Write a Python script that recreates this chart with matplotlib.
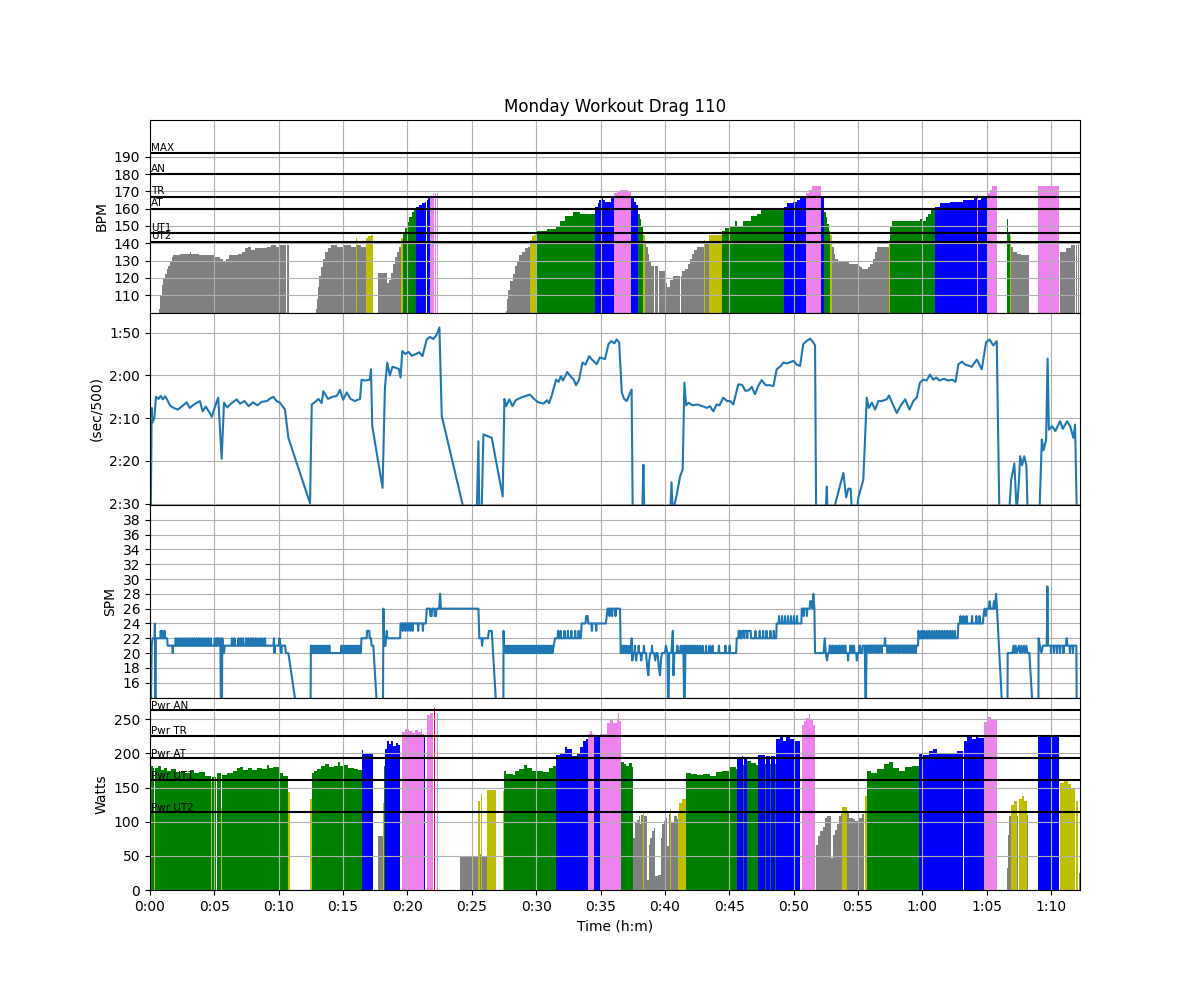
import matplotlib
matplotlib.use("Agg")
import matplotlib.pyplot as plt
from matplotlib.ticker import FuncFormatter, MultipleLocator
import numpy as np

title = "Monday Workout Drag 110"
t_end = 4335

# heart-rate zones
hr_zone_names = ["UT2", "UT1", "AT", "TR", "AN", "MAX"]
hr_zone_vals = [141, 146, 160, 167, 180, 192]
# power zones
pw_zone_names = ["Pwr UT2", "Pwr UT1", "Pwr AT", "Pwr TR", "Pwr AN"]
pw_zone_vals = [114, 161, 193, 226, 263]
zone_colors = ["gray", "y", "green", "blue", "violet", "red"]

# heart rate (time s, bpm); 0 = no data
hr_t = [0, 43, 48, 54, 62, 70, 78, 86, 94, 101, 108, 140, 175, 185, 192, 230, 270, 300, 324, 328,
        338, 348, 356, 366, 395, 410, 430, 445, 455, 470, 490, 520, 545, 565, 585, 605, 635, 639, 649,
        772, 778, 784, 790, 797, 805, 815, 828, 845, 870, 900, 935, 962, 966, 985, 1007, 1018, 1028,
        1040, 1063, 1100, 1104, 1112, 1122, 1132, 1142, 1152, 1160, 1170, 1178, 1188, 1198, 1208,
        1220, 1232, 1240, 1255, 1268, 1280, 1286, 1290, 1298, 1306, 1319, 1324, 1328, 1334, 1338, 1343,
        1660, 1665, 1671, 1680, 1690, 1700, 1710, 1722, 1735, 1750, 1762, 1771, 1780, 1790, 1804,
        1849, 1893, 1911, 1935, 1973, 2004, 2076, 2086, 2094, 2102, 2110, 2120, 2150, 2163, 2175,
        2190, 2228, 2242, 2255, 2265, 2275, 2283, 2291, 2298, 2307, 2313, 2319, 2326, 2334, 2349,
        2353, 2368, 2372, 2400, 2410, 2422, 2426, 2436, 2469, 2473, 2480, 2492, 2496, 2506, 2516,
        2526, 2538, 2550, 2583, 2588, 2606, 2666, 2680, 2700, 2728, 2736, 2765, 2800, 2830, 2850,
        2955, 2968, 2999, 3015, 3030, 3058, 3070, 3085, 3128, 3142, 3150, 3157, 3164, 3170, 3179,
        3186, 3195, 3205, 3260, 3300, 3308, 3320, 3345, 3358, 3368, 3378, 3388, 3445, 3450, 3458,
        3590, 3600, 3615, 3628, 3640, 3659, 3683, 3729, 3791, 3840, 3855, 3860, 3875, 3906, 3915,
        3926, 3948, 3995, 3999, 4009, 4014, 4022, 4040, 4060, 4098, 4140, 4237, 4242, 4270, 4295,
        4312, 4316, 4321, 4325, 4330]
hr_v = [0, 102, 110, 116, 120, 122, 125, 127, 130, 132, 133, 134, 134, 135, 134, 133, 133, 132, 0, 131,
        130, 129, 131, 133, 133, 134, 135, 137, 138, 136, 137, 137, 138, 139, 138, 139, 0, 139, 0,
        102, 108, 115, 121, 126, 131, 135, 137, 139, 138, 139, 138, 143, 139, 138, 143, 144, 145,
        0, 123, 123, 117, 119, 123, 128, 132, 135, 138, 143, 146, 149, 152, 155,
        158, 159, 161, 162, 163, 164, 0, 165, 166, 167, 169, 0, 169, 0, 169, 0,
        101, 108, 113, 118, 122, 127, 130, 133, 135, 137, 138, 142, 144, 145, 147,
        148, 150, 153, 156, 158, 157, 161, 163, 165, 166, 165, 164, 166, 169, 170,
        171, 170, 166, 164, 162, 157, 154, 150, 145, 140, 138, 134, 130, 127, 0,
        127, 0, 124, 117, 115, 0, 119, 121, 0, 121, 124, 0, 125, 128, 131,
        134, 136, 138, 142, 140, 145, 147, 149, 150, 153, 150, 153, 156, 157, 159,
        161, 163, 164, 165, 166, 169, 171, 173, 166, 158, 155, 151, 147, 145, 138,
        134, 131, 129, 128, 127, 126, 125, 126, 128, 131, 135, 138, 142, 150, 153,
        154, 153, 155, 157, 159, 161, 163, 164, 165, 166, 168, 165, 166, 169, 171,
        173, 0, 154, 146, 144, 138, 135, 134, 133, 0, 173, 0, 135, 137, 139,
        0, 139, 0, 140, 0]

# pace (time s, sec/500m)
pc_t = [3, 8, 11, 20, 28, 40, 50, 60, 70, 78, 93, 110, 130, 150, 171, 185, 200, 215, 233, 245, 260,
        275, 288, 305, 318, 334, 345, 360, 380, 404, 420, 440, 460, 480, 500, 520, 545, 560, 575, 590,
        606, 629, 645, 746, 754, 770, 785, 800, 808, 830, 850, 870, 886, 900, 917, 935, 955, 979, 986,
        1000, 1025, 1030, 1036, 1084, 1095, 1106, 1118, 1130, 1145, 1160, 1168, 1176, 1190, 1205,
        1220, 1240, 1255, 1270, 1290, 1305, 1320, 1335, 1349, 1360, 1461, 1523, 1531, 1535, 1546,
        1554, 1593, 1644, 1652, 1660, 1675, 1690, 1705, 1720, 1740, 1771, 1790, 1810, 1835, 1850,
        1860, 1872, 1893, 1905, 1915, 1925, 1945, 1960, 1975, 1986, 2000, 2016, 2030, 2047, 2060,
        2082, 2097, 2121, 2137, 2150, 2165, 2175, 2187, 2199, 2210, 2222, 2235, 2245, 2250, 2295,
        2300, 2304, 2347, 2350, 2425, 2431, 2436, 2455, 2471, 2483, 2491, 2499, 2510, 2530, 2550,
        2575, 2595, 2610, 2626, 2641, 2655, 2672, 2690, 2705, 2719, 2742, 2760, 2775, 2790, 2805,
        2820, 2835, 2851, 2870, 2890, 2906, 2921, 2940, 2952, 2970, 2999, 3015, 3030, 3045, 3060,
        3077, 3092, 3100, 3105, 3150, 3155, 3158, 3185, 3201, 3232, 3245, 3255, 3266, 3272, 3295,
        3302, 3325, 3341, 3350, 3365, 3380, 3395, 3410, 3434, 3445, 3460, 3481, 3500, 3520, 3540,
        3558, 3574, 3589, 3605, 3620, 3636, 3650, 3665, 3680, 3700, 3720, 3740, 3755, 3768, 3785,
        3800, 3815, 3830, 3854, 3877, 3897, 3913, 3931, 3947, 3959, 4005, 4014, 4029, 4040, 4050,
        4056, 4065, 4075, 4085, 4091, 4146, 4157, 4165, 4177, 4184, 4190, 4205, 4220, 4242, 4255,
        4275, 4290, 4304, 4312, 4320, 4335]
pc_v = [155, 127.6, 131, 130, 125, 125.5, 124.8, 125.6, 124.9, 125.5, 127, 127.6, 128, 127.2, 126.3,
        127.6, 127, 126.5, 126, 128.4, 127.3, 128.5, 129.7, 127, 125.2, 139.5, 126.4, 127.5, 126.5,
        125.6, 126.6, 126, 127.2, 126.3, 127, 126.2, 126, 125.4, 125, 126, 126.4, 128, 134.6, 149.9,
        126.8, 126.2, 125.5, 126.5, 123.7, 125.5, 125, 124.8, 123.4, 125.7, 124, 125.5, 126, 125.5,
        121, 121.2, 121, 118.6, 131.9, 146.3, 122.9, 117, 120, 118, 118.2, 118.5, 120.5, 114.3, 115,
        114.5, 115.4, 115, 114.6, 115.5, 111.6, 111, 111.5, 110.6, 108.8, 129.5, 151, 152, 135.4,
        152, 152, 133.8, 134.6, 148.3, 125.5, 127.2, 125.6, 127.2, 125.8, 125.4, 125, 124.5, 125.5,
        126.3, 126.6, 125.8, 126.5, 124.8, 121, 121.5, 120.2, 121.2, 119.2, 120.2, 121, 122.3, 121,
        117, 117.5, 115.5, 116.3, 117.4, 115.8, 116.2, 112.7, 112, 112.5, 111.6, 112.3, 124, 125.5,
        126, 124.5, 123.3, 152, 151, 140.9, 152, 150.5, 152, 152, 145, 152, 148, 143.6, 142, 121.7,
        127, 126.4, 127, 126.8, 127.2, 127.6, 127.2, 128.4, 126.8, 127, 125.2, 126, 126, 126.8,
        122.1, 122.2, 123.6, 123.5, 122.7, 124.4, 122.5, 121.1, 122.3, 122.3, 122.5, 118.6, 117.8,
        117, 117.2, 116.6, 117.5, 117.8, 112.7, 112, 111.4, 112.3, 113, 152, 151, 146, 152, 152,
        148.7, 142.8, 148.5, 146.5, 146.5, 152, 152, 148.5, 144.4, 125.2, 127.6, 126.4, 128, 126,
        126, 125.6, 124.7, 126.5, 128.8, 127, 125.6, 128, 126, 125.2, 121.7, 121, 121.2, 119.8, 121,
        120.5, 121.2, 120.8, 121.2, 121, 121.5, 117.4, 116.8, 117.5, 117.7, 118, 116.3, 118.6, 112.3,
        111.6, 113, 112, 152, 152, 144.5, 140.6, 152, 145, 138.9, 141, 138.9, 141, 152, 152, 135,
        137.5, 135, 116.1, 132.7, 131.9, 133, 130.7, 132.5, 130.7, 132, 134.6, 131.5, 152, 152]

# stroke rate samples (time s, strokes/min)
spm_points = [
    (3, 10), (8, 21), (12, 22), (21, 22), (23, 24), (25, 10), (27, 22),
    (48, 22), (50, 23), (52, 22), (56, 22), (58, 23), (60, 22), (66, 22), (68, 23), (70, 22),
    (80, 22), (82, 21), (104, 21), (106, 20), (108, 21),
    (118, 21), (120, 22), (122, 21), (128, 21), (130, 22), (132, 21), (140, 21), (142, 22), (144, 21),
    (150, 21), (152, 22), (154, 21), (160, 21), (162, 22), (164, 21), (172, 21), (174, 22), (176, 21),
    (182, 21), (184, 22), (186, 21), (194, 21), (196, 22), (198, 21), (204, 21), (206, 22), (208, 21),
    (216, 21), (218, 22), (220, 21), (226, 21), (228, 22), (230, 21), (238, 21), (240, 22), (242, 21),
    (248, 21), (250, 22), (252, 21), (260, 21), (262, 22), (264, 21), (270, 21), (272, 22), (274, 21),
    (282, 21), (284, 22), (286, 21), (300, 21), (302, 22), (304, 21), (310, 21), (312, 22), (314, 21),
    (318, 22), (322, 21), (328, 22), (331, 10), (335, 10), (337, 22), (341, 21), (345, 20), (348, 21),
    (380, 21), (382, 22), (384, 21), (392, 21), (394, 22), (396, 21), (410, 21), (412, 22), (414, 21),
    (420, 21), (422, 22), (424, 21), (432, 21), (434, 22), (436, 21), (446, 21), (448, 22), (450, 21),
    (456, 21), (458, 22), (460, 21), (468, 21), (470, 22), (472, 21), (478, 21), (480, 22), (482, 21),
    (490, 21), (492, 22), (494, 21), (500, 21), (502, 22), (504, 21), (512, 21), (514, 22), (516, 21),
    (522, 21), (524, 22), (526, 21), (534, 21), (536, 22), (538, 21),
    (575, 21), (578, 22), (580, 20), (583, 21), (600, 21), (604, 22), (608, 21), (612, 20), (615, 21),
    (630, 21), (633, 20), (640, 20), (645, 20),
    (746, 0), (750, 21),
    (754, 20), (756, 21), (758, 20), (762, 20), (764, 21), (766, 20), (770, 20), (772, 21), (774, 20),
    (778, 20), (780, 21), (782, 20), (786, 20), (788, 21), (790, 20), (794, 20), (796, 21), (798, 20),
    (802, 20), (804, 21), (806, 20), (810, 20), (812, 21), (814, 20), (818, 20), (820, 21), (822, 20),
    (826, 20), (828, 21), (830, 20), (834, 20), (836, 21), (838, 20), (850, 20),
    (890, 20), (892, 21), (894, 20), (898, 20), (900, 21), (902, 20), (906, 20), (908, 21), (910, 20),
    (914, 20), (916, 21), (918, 20), (922, 20), (924, 21), (926, 20), (930, 20), (932, 21), (934, 20),
    (938, 20), (940, 21), (942, 20), (946, 20), (948, 21), (950, 20), (954, 20), (956, 21), (958, 20),
    (962, 20), (964, 21), (966, 20), (970, 20), (972, 21), (974, 20), (978, 20), (980, 21), (982, 20),
    (986, 22), (1010, 22), (1012, 23), (1022, 23), (1024, 22), (1030, 22), (1033, 21), (1041, 21),
    (1084, 0), (1088, 26), (1092, 21), (1098, 21), (1100, 22), (1104, 23), (1106, 22), (1166, 22),
    (1168, 24), (1176, 24), (1178, 23), (1180, 24), (1188, 24), (1190, 23), (1192, 24), (1200, 24),
    (1202, 23), (1204, 24), (1212, 24), (1214, 23), (1216, 24), (1222, 24), (1224, 23), (1226, 24),
    (1240, 24), (1248, 24), (1250, 23), (1252, 24), (1270, 24), (1272, 23), (1274, 24), (1286, 24),
    (1290, 26), (1305, 26), (1307, 25), (1313, 25), (1315, 26), (1325, 26), (1327, 25), (1333, 25),
    (1335, 26), (1348, 26), (1352, 28), (1356, 26),
    (1531, 26), (1535, 22), (1545, 22), (1548, 21), (1552, 22), (1575, 22), (1580, 23), (1593, 23),
    (1640, 0), (1646, 0), (1648, 23), (1651, 20),
    (1656, 20), (1658, 21), (1660, 20), (1664, 20), (1666, 21), (1668, 20), (1672, 20), (1674, 21),
    (1676, 20), (1680, 20), (1682, 21), (1684, 20), (1688, 20), (1690, 21), (1692, 20), (1696, 20),
    (1698, 21), (1700, 20), (1704, 20), (1706, 21), (1708, 20), (1712, 20), (1714, 21), (1716, 20),
    (1720, 20), (1722, 21), (1724, 20), (1728, 20), (1730, 21), (1732, 20), (1736, 20), (1738, 21),
    (1740, 20), (1744, 20), (1746, 21), (1748, 20), (1752, 20), (1754, 21), (1756, 20), (1760, 20),
    (1762, 21), (1764, 20), (1768, 20), (1770, 21), (1772, 20), (1776, 20), (1778, 21), (1780, 20),
    (1784, 20), (1786, 21), (1788, 20), (1792, 20), (1794, 21), (1796, 20), (1800, 20), (1802, 21),
    (1804, 20), (1808, 20), (1810, 21), (1812, 20), (1816, 20), (1818, 21), (1820, 20), (1824, 20),
    (1826, 21), (1828, 20), (1832, 20), (1834, 21), (1836, 20), (1840, 20), (1842, 21), (1844, 20),
    (1848, 20), (1850, 21), (1852, 20), (1856, 20), (1858, 21), (1860, 20), (1864, 20), (1866, 21),
    (1868, 20), (1872, 20), (1874, 21), (1876, 20), (1882, 21), (1888, 22),
    (1900, 22), (1902, 23), (1904, 22), (1912, 22), (1914, 23), (1916, 22), (1930, 22), (1932, 23),
    (1934, 22), (1946, 22), (1948, 23), (1950, 22), (1962, 22), (1964, 23), (1966, 22), (1980, 22),
    (1982, 23), (1984, 22), (1996, 22), (1998, 23), (2000, 22), (2008, 22), (2012, 24),
    (2030, 24), (2033, 25), (2040, 25), (2043, 24), (2058, 24), (2060, 23), (2062, 24), (2078, 24),
    (2080, 23), (2082, 24), (2125, 24), (2129, 25), (2133, 26), (2140, 26), (2142, 25), (2144, 26),
    (2152, 26), (2154, 25), (2156, 26), (2168, 26), (2170, 25), (2172, 26), (2191, 26), (2194, 20),
    (2200, 20), (2202, 21), (2204, 20), (2210, 20), (2212, 21), (2214, 20), (2220, 20), (2222, 21),
    (2224, 20), (2232, 20), (2234, 21), (2236, 20), (2243, 20), (2245, 22), (2248, 19), (2252, 20),
    (2258, 20), (2260, 21), (2262, 20), (2266, 19), (2270, 20), (2276, 20), (2278, 21), (2280, 20),
    (2286, 20), (2290, 19), (2294, 20), (2300, 20), (2302, 21), (2305, 20), (2312, 20), (2318, 18),
    (2323, 17), (2327, 19), (2332, 20), (2338, 20), (2340, 21), (2342, 20), (2350, 20), (2355, 19),
    (2360, 20), (2366, 20), (2372, 18), (2377, 17), (2382, 19), (2386, 20), (2400, 20), (2405, 21),
    (2412, 20), (2416, 10), (2420, 20), (2430, 20), (2437, 23), (2440, 17), (2444, 20), (2455, 20),
    (2458, 21), (2462, 20), (2470, 20), (2474, 21), (2478, 20), (2486, 21), (2491, 10), (2496, 21),
    (2500, 20), (2502, 21), (2504, 20), (2510, 20), (2512, 21), (2514, 20), (2520, 20), (2522, 21),
    (2524, 20), (2530, 20), (2532, 21), (2534, 20), (2540, 20), (2542, 21), (2544, 20), (2550, 20),
    (2552, 21), (2554, 20), (2562, 20), (2564, 21), (2566, 20), (2574, 20), (2576, 21), (2578, 20),
    (2590, 20), (2592, 21), (2594, 20), (2606, 20), (2608, 21), (2610, 20), (2620, 20), (2622, 21),
    (2624, 20), (2650, 20), (2652, 21), (2654, 20), (2680, 20), (2682, 21), (2684, 20), (2700, 20),
    (2702, 21), (2704, 20), (2732, 20), (2735, 22),
    (2742, 22), (2744, 23), (2750, 23), (2752, 22), (2758, 22), (2760, 23), (2768, 23), (2770, 22),
    (2772, 23), (2782, 23), (2784, 22), (2786, 23), (2800, 23), (2802, 22), (2820, 22), (2822, 23),
    (2824, 22), (2840, 22), (2842, 23), (2844, 22), (2856, 22), (2858, 23), (2860, 22), (2872, 22),
    (2874, 23), (2876, 22), (2890, 22), (2892, 23), (2894, 22), (2906, 22), (2908, 23), (2910, 22),
    (2919, 22), (2921, 24),
    (2930, 24), (2932, 25), (2934, 24), (2944, 24), (2946, 25), (2948, 24), (2958, 24), (2960, 25),
    (2962, 24), (2972, 24), (2974, 25), (2976, 24), (2986, 24), (2988, 25), (2990, 24), (3000, 24),
    (3002, 25), (3004, 24), (3014, 24), (3016, 25), (3018, 24), (3036, 24), (3038, 26),
    (3045, 26), (3047, 25), (3049, 26), (3060, 26), (3062, 25), (3064, 26), (3075, 26), (3077, 27),
    (3085, 27), (3088, 26), (3092, 28), (3097, 26), (3100, 20),
    (3140, 20), (3145, 22), (3150, 20), (3156, 19), (3160, 20), (3166, 20), (3168, 21), (3172, 21),
    (3174, 20), (3180, 20), (3182, 21), (3186, 21), (3188, 20), (3194, 20), (3196, 21), (3200, 21),
    (3202, 20), (3208, 20), (3210, 21), (3214, 21), (3216, 20), (3222, 20), (3224, 21), (3228, 21),
    (3230, 20), (3236, 20), (3238, 21), (3242, 21), (3244, 20), (3252, 20), (3254, 19), (3256, 20),
    (3262, 20), (3264, 21), (3268, 21), (3270, 20), (3276, 20), (3278, 21), (3282, 21), (3284, 20),
    (3292, 20), (3295, 19), (3298, 20), (3304, 20), (3306, 21), (3310, 21), (3312, 20), (3320, 20),
    (3322, 21), (3332, 21), (3336, 10), (3340, 21),
    (3348, 21), (3350, 20), (3352, 21), (3360, 21), (3362, 20), (3364, 21), (3372, 21), (3374, 20),
    (3376, 21), (3384, 21), (3386, 20), (3388, 21), (3396, 21), (3398, 20), (3400, 21), (3408, 21),
    (3410, 20), (3412, 21), (3424, 21), (3426, 22), (3428, 21), (3436, 21), (3438, 20), (3440, 21),
    (3448, 21), (3450, 20), (3452, 21), (3460, 21), (3462, 20), (3464, 21), (3472, 21), (3474, 20),
    (3476, 21), (3484, 21), (3486, 20), (3488, 21), (3496, 21), (3498, 20), (3500, 21), (3508, 21),
    (3510, 20), (3512, 21), (3520, 21), (3522, 20), (3524, 21), (3532, 21), (3534, 20), (3536, 21),
    (3544, 21), (3546, 20), (3548, 21), (3556, 21), (3558, 20), (3560, 21), (3568, 21), (3570, 20),
    (3572, 21), (3580, 21), (3582, 23),
    (3586, 22), (3594, 22), (3596, 23), (3598, 22), (3606, 22), (3608, 23), (3610, 22), (3618, 22),
    (3620, 23), (3622, 22), (3630, 22), (3632, 23), (3634, 22), (3642, 22), (3644, 23), (3646, 22),
    (3654, 22), (3656, 23), (3658, 22), (3666, 22), (3668, 23), (3670, 22), (3678, 22), (3680, 23),
    (3682, 22), (3690, 22), (3692, 23), (3694, 22), (3702, 22), (3704, 23), (3706, 22), (3714, 22),
    (3716, 23), (3718, 22), (3726, 22), (3728, 23), (3730, 22), (3738, 22), (3740, 23), (3742, 22),
    (3750, 22), (3752, 23), (3754, 22), (3765, 22), (3768, 24),
    (3776, 24), (3778, 25), (3780, 24), (3790, 24), (3792, 25), (3794, 24), (3804, 24), (3806, 25),
    (3808, 24), (3830, 24), (3832, 25), (3834, 24), (3850, 24), (3852, 25), (3854, 24), (3865, 24),
    (3867, 25), (3869, 24), (3882, 24), (3885, 25), (3890, 26), (3896, 25), (3900, 26), (3910, 26),
    (3914, 27), (3918, 26), (3930, 26), (3934, 27), (3938, 26), (3944, 28), (3948, 26),
    (3995, 0), (3998, 20), (4010, 20), (4020, 20), (4025, 21), (4030, 20), (4035, 21), (4040, 20),
    (4050, 21), (4055, 20), (4062, 21), (4066, 20), (4074, 21), (4078, 20), (4085, 21), (4090, 20),
    (4099, 20), (4140, 0), (4142, 22), (4148, 21), (4155, 20), (4162, 21), (4180, 21), (4183, 29),
    (4186, 21), (4198, 21), (4200, 20), (4202, 21), (4212, 21), (4214, 20), (4216, 21), (4226, 21),
    (4228, 20), (4230, 21), (4240, 21), (4242, 20), (4244, 21), (4256, 21), (4258, 20), (4260, 21),
    (4270, 21), (4273, 22), (4276, 21), (4286, 21), (4288, 20), (4290, 21), (4300, 21), (4302, 20),
    (4304, 21), (4318, 21), (4322, 0), (4335, 0),
]
sp_t = [p[0] for p in spm_points]
sp_v = [p[1] for p in spm_points]

# power (time s, watts); 0 = no data
pw_t = [0, 5, 12, 19, 23, 35, 50, 65, 80, 100, 120, 145, 165, 185, 205, 230, 256, 283, 287, 306, 310,
        329, 333, 337, 360, 385, 404, 420, 435, 455, 475, 500, 520, 544, 555, 575, 606, 622, 641, 653,
        746, 754, 765, 780, 795, 815, 835, 860, 878, 884, 905, 925, 950, 970, 986, 990, 995, 1041,
        1064, 1088, 1092, 1096, 1104, 1115, 1125, 1135, 1145, 1155, 1165, 1176, 1190, 1205, 1220,
        1235, 1250, 1262, 1270, 1279, 1283, 1293, 1303, 1321, 1323, 1327, 1339, 1344, 1445, 1531,
        1537, 1544, 1549, 1570, 1613, 1645, 1650, 1660, 1690, 1700, 1720, 1745, 1755, 1780, 1800,
        1830, 1860, 1880, 1893, 1910, 1935, 1945, 1965, 1990, 2005, 2020, 2030, 2040, 2052, 2058,
        2070, 2098, 2104, 2108, 2129, 2145, 2160, 2175, 2180, 2185, 2196, 2208, 2220, 2235, 2245,
        2252, 2262, 2270, 2278, 2285, 2290, 2299, 2304, 2315, 2325, 2332, 2340, 2348, 2356, 2370,
        2380, 2388, 2396, 2404, 2412, 2420, 2425, 2430, 2442, 2455, 2462, 2468, 2480, 2499, 2520,
        2550, 2580, 2610, 2640, 2665, 2700, 2730, 2738, 2758, 2763, 2770, 2785, 2800, 2825, 2836,
        2867, 2870, 2890, 2893, 2913, 2916, 2935, 2950, 2965, 2985, 3002, 3005, 3008, 3030, 3038,
        3050, 3060, 3070, 3078, 3090, 3100, 3105, 3115, 3125, 3135, 3145, 3155, 3175, 3182, 3192,
        3202, 3212, 3220, 3226, 3251, 3258, 3275, 3285, 3300, 3318, 3330, 3335, 3341, 3360, 3390,
        3420, 3445, 3465, 3490, 3520, 3550, 3586, 3600, 3630, 3650, 3670, 3700, 3730, 3760, 3788,
        3793, 3810, 3830, 3850, 3860, 3888, 3905, 3920, 3947, 3994, 4000, 4006, 4012, 4026, 4040,
        4041, 4046, 4052, 4065, 4075, 4087, 4094, 4141, 4237, 4242, 4260, 4280, 4295, 4312, 4317,
        4328, 4331]
pw_v = [0, 182, 179, 116, 178, 182, 176, 179, 174, 177, 173, 175, 172, 176, 171, 173, 167, 158, 165, 0, 172,
        0, 120, 169, 172, 174, 178, 180, 176, 178, 176, 179, 177, 183, 178, 180, 171, 167, 143, 0,
        134, 172, 175, 177, 182, 184, 180, 181, 187, 181, 183, 178, 177, 176, 199, 205, 199, 0,
        79, 128, 182, 206, 219, 214, 218, 211, 216, 213, 0, 231, 236, 233, 230,
        234, 231, 236, 229, 225, 0, 256, 259, 0, 266, 0, 259, 0, 48, 131,
        53, 140, 48, 146, 0, 145, 174, 170, 169, 175, 177, 183, 178, 175, 174,
        173, 178, 182, 198, 200, 209, 206, 197, 199, 209, 219, 221, 229, 233, 229,
        224, 229, 225, 229, 245, 249, 244, 251, 259, 247, 187, 184, 182, 186, 180,
        76, 98, 103, 108, 96, 110, 116, 108, 15, 66, 76, 86, 91, 20, 22,
        76, 96, 101, 106, 64, 111, 118, 98, 108, 104, 115, 128, 133, 172, 170,
        168, 170, 167, 173, 175, 180, 177, 195, 197, 183, 195, 189, 186, 183, 198,
        185, 197, 185, 197, 185, 221, 224, 219, 224, 221, 0, 235, 219, 0, 241,
        248, 252, 258, 250, 241, 0, 66, 79, 86, 93, 106, 108, 47, 81, 88,
        96, 108, 111, 121, 113, 106, 104, 101, 106, 112, 0, 138, 174, 172, 177,
        184, 187, 178, 174, 180, 182, 200, 198, 203, 207, 201, 200, 199, 203, 0,
        219, 224, 221, 224, 222, 246, 253, 249, 0, 32, 81, 108, 125, 130, 0,
        108, 0, 133, 138, 130, 110, 0, 225, 0, 157, 160, 155, 148, 0, 130,
        0, 25]


def zone_color(v, th):
    idx = 0
    for k, lim in enumerate(th):
        if v >= lim:
            idx = k + 1
    return zone_colors[idx]


def draw_bars(ax, t, v, th):
    t = np.asarray(t, dtype=float)
    v = np.asarray(v, dtype=float)
    w = np.diff(np.append(t, t_end))
    cols = [zone_color(x, th) for x in v]
    ax.bar(t, v, width=w, align="edge", color=cols, linewidth=0, antialiased=False)


def mmss(x, pos=None):
    m = int(x // 60)
    s = int(round(x - 60 * m))
    if s == 60:
        m += 1
        s = 0
    return "%d:%02d" % (m, s)


def hmm(x, pos=None):
    mins = int(round(x / 60.0))
    return "%d:%02d" % (mins // 60, mins % 60)


fig, axes = plt.subplots(4, 1, sharex=True, figsize=(12, 10), dpi=100)
fig.subplots_adjust(hspace=0)
ax1, ax2, ax3, ax4 = axes

# HR
draw_bars(ax1, hr_t, hr_v, hr_zone_vals[:5])
for name, val in zip(hr_zone_names, hr_zone_vals):
    ax1.axhline(val, color="k", lw=1.5)
    ax1.text(5, val + 1.3, name, fontsize=7.5)
ax1.set_ylim(100, 211.2)
ax1.set_yticks(range(110, 200, 10))
ax1.set_ylabel("BPM")
ax1.set_title(title)
ax1.grid(True)

# Pace
ax2.plot(pc_t, pc_v, color="C0")
ax2.set_ylim(150.3, 105.3)
ax2.set_yticks([110, 120, 130, 140, 150])
ax2.yaxis.set_major_formatter(FuncFormatter(mmss))
ax2.set_ylabel("(sec/500)")
ax2.grid(True)

# SPM
ax3.plot(sp_t, sp_v, color="C0")
ax3.set_ylim(14, 40)
ax3.set_yticks(range(16, 40, 2))
ax3.set_ylabel("SPM")
ax3.grid(True)

# Power
draw_bars(ax4, pw_t, pw_v, pw_zone_vals)
for name, val in zip(pw_zone_names, pw_zone_vals):
    ax4.axhline(val, color="k", lw=1.5)
    ax4.text(5, val + 2, name, fontsize=7.5)
ax4.set_ylim(0, 282)
ax4.set_yticks(range(0, 300, 50))
ax4.set_ylabel("Watts")
ax4.grid(True)

ax4.set_xlim(0, t_end)
ax4.xaxis.set_major_locator(MultipleLocator(300))
ax4.xaxis.set_major_formatter(FuncFormatter(hmm))
ax4.set_xlabel("Time (h:m)")

fig.savefig("out.png", dpi=100)
